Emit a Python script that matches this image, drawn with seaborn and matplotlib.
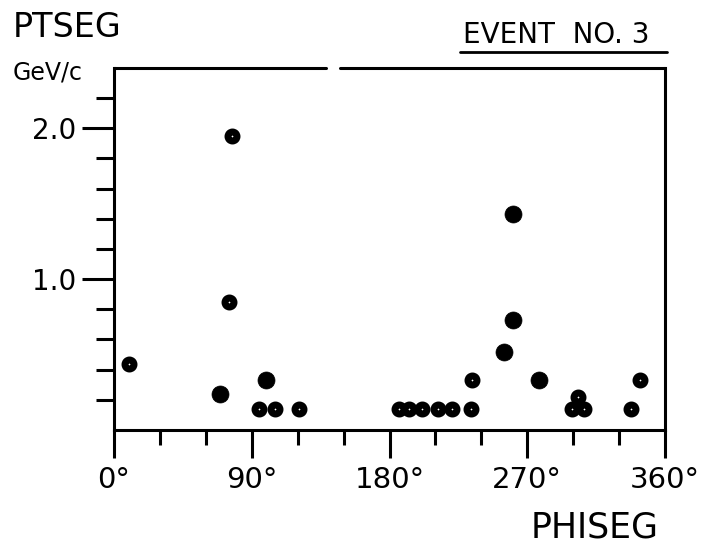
import numpy as np
import pandas as pd
import matplotlib
matplotlib.use("Agg")
import matplotlib.pyplot as plt
from matplotlib.lines import Line2D
import seaborn as sns

# точки события (PHISEG в градусах, PTSEG в GeV/c)
phiseg = [10, 69, 75, 77, 95, 99, 105, 121, 186, 193, 201, 212, 221, 233,
          234, 255, 261, 261, 278, 299, 303, 307, 338, 344]
ptseg = [0.44, 0.24, 0.85, 1.95, 0.14, 0.33, 0.14, 0.14, 0.14, 0.14, 0.14,
         0.14, 0.14, 0.14, 0.33, 0.52, 0.73, 1.43, 0.33, 0.14, 0.22, 0.14,
         0.14, 0.33]
kind = ["open", "solid", "open", "open", "open", "solid", "open", "open",
        "open", "open", "open", "open", "open", "open", "open", "solid",
        "solid", "solid", "solid", "open", "open", "open", "open", "open"]

x_major = [0, 90, 180, 270, 360]
x_labels = ["0°", "90°", "180°", "270°", "360°"]
x_minor = [30, 60, 120, 150, 210, 240, 300, 330]
y_major = [1.0, 2.0]
y_labels = ["1.0", "2.0"]
y_minor = [0.2, 0.4, 0.6, 0.8, 1.2, 1.4, 1.6, 1.8, 2.2]

df = pd.DataFrame({"phi": phiseg, "pt": ptseg, "kind": kind})

sns.set_style("white")
plt.rcParams["font.family"] = ["DejaVu Sans"]
plt.rcParams["text.color"] = "black"
plt.rcParams["xtick.color"] = "black"
plt.rcParams["ytick.color"] = "black"

fig = plt.figure(figsize=(7.1, 5.47), dpi=100)
ax = fig.add_axes([0.1606, 0.2139, 0.776, 0.6618])

sns.scatterplot(data=df[df["kind"] == "solid"], x="phi", y="pt", ax=ax,
                s=150, color="black", edgecolor="black", linewidth=0.5,
                legend=False, zorder=3)
sns.scatterplot(data=df[df["kind"] == "open"], x="phi", y="pt", ax=ax,
                s=42, facecolor="white", edgecolor="black", linewidth=5.0,
                legend=False, zorder=3)

ax.set_xlim(0, 360)
ax.set_ylim(0, 2.4)
ax.set_xlabel("")
ax.set_ylabel("")

ax.set_xticks(x_major)
ax.set_xticklabels(x_labels, fontsize=21)
ax.set_xticks(x_minor, minor=True)
ax.set_yticks(y_major)
ax.set_yticklabels(y_labels, fontsize=20)
ax.set_yticks(y_minor, minor=True)

ax.tick_params(which="both", bottom=True, left=True, top=False, right=False,
               color="black", labelcolor="black")
ax.tick_params(axis="x", which="major", direction="out", length=20, width=2.2,
               pad=6)
ax.tick_params(axis="x", which="minor", direction="out", length=11, width=2.2)
ax.tick_params(axis="y", which="major", direction="out", length=23, width=2.2,
               pad=4)
ax.tick_params(axis="y", which="minor", direction="out", length=13, width=2.2)

for side in ["left", "right", "bottom"]:
    ax.spines[side].set_color("black")
    ax.spines[side].set_linewidth(2.2)
ax.spines["top"].set_visible(False)
# верхняя рамка с разрывом, как на скане
ax.axhline(2.4, xmin=0, xmax=0.385, color="black", linewidth=2.2, clip_on=False)
ax.axhline(2.4, xmin=0.41, xmax=1, color="black", linewidth=2.2, clip_on=False)

fig.text(0.018, 0.932, "PTSEG", fontsize=24, va="baseline", ha="left")
fig.text(0.018, 0.854, "GeV/c", fontsize=17, va="baseline", ha="left")
fig.text(0.652, 0.921, "EVENT  NO. 3", fontsize=20, va="baseline", ha="left")
fig.add_artist(Line2D([0.648, 0.939], [0.905, 0.905], color="black",
                      linewidth=2.0, transform=fig.transFigure))
fig.text(0.837, 0.0165, "PHISEG", fontsize=25, va="baseline", ha="center")

fig.savefig("out.png", dpi=100, facecolor="white")
